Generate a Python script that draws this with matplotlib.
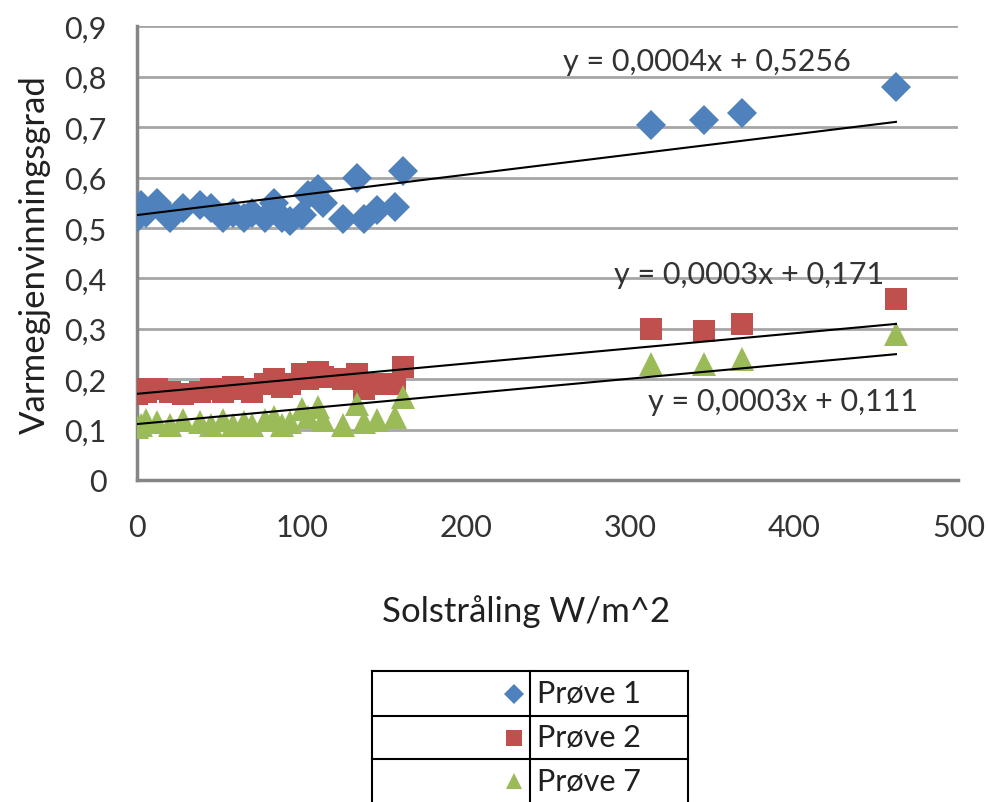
import matplotlib
matplotlib.use("Agg")
import matplotlib.pyplot as plt
from matplotlib.lines import Line2D
import numpy as np

plt.rcParams['font.family'] = ['Lato', 'DejaVu Sans']

# ---- data ----
solstraling = [0, 2, 5, 12, 20, 28, 38, 45, 52, 58, 65, 70, 78, 83, 88, 93,
               100, 104, 110, 113, 125, 134, 138, 146, 157, 162, 313, 345, 368, 462]
prove1 = [0.52, 0.545, 0.53, 0.55, 0.52, 0.54, 0.545, 0.54, 0.52, 0.53, 0.52, 0.53,
          0.52, 0.55, 0.52, 0.514, 0.525, 0.565, 0.577, 0.55, 0.518, 0.60, 0.518,
          0.535, 0.542, 0.612, 0.705, 0.715, 0.728, 0.78]
prove2 = [0.17, 0.18, 0.175, 0.18, 0.175, 0.17, 0.175, 0.18, 0.175, 0.185, 0.18, 0.175,
          0.19, 0.2, 0.185, 0.19, 0.21, 0.2, 0.215, 0.205, 0.2, 0.21, 0.18, 0.19,
          0.19, 0.225, 0.30, 0.295, 0.31, 0.36]
prove3 = [0.105, 0.11, 0.12, 0.115, 0.11, 0.12, 0.115, 0.11, 0.12, 0.11, 0.115, 0.11,
          0.12, 0.125, 0.11, 0.115, 0.14, 0.125, 0.145, 0.12, 0.11, 0.15, 0.115, 0.12,
          0.125, 0.165, 0.23, 0.23, 0.24, 0.29]
series_names = ["Prøve 1", "Prøve 2", "Prøve 7"]
trend_slopes = [0.0004, 0.0003, 0.0003]
trend_intercepts = [0.5256, 0.171, 0.111]
trend_labels = ["y = 0,0004x + 0,5256", "y = 0,0003x + 0,171", "y = 0,0003x + 0,111"]
x_ticks = [0, 100, 200, 300, 400, 500]
y_ticks = [0, 0.1, 0.2, 0.3, 0.4, 0.5, 0.6, 0.7, 0.8, 0.9]
y_ticklabels = ["0", "0,1", "0,2", "0,3", "0,4", "0,5", "0,6", "0,7", "0,8", "0,9"]

colors = ["#4F81BD", "#C0504D", "#9BBB59"]
markers = ["D", "s", "^"]
msizes = [15, 16, 17]
txt = '#333333'

fig = plt.figure(figsize=(9.88, 8.03), dpi=100)
ax = fig.add_axes([0.139, 0.401, 0.831, 0.565])

for ys, c, m, ms in zip([prove1, prove2, prove3], colors, markers, msizes):
    ax.plot(solstraling, ys, linestyle='none', marker=m, markersize=ms,
            color=c, markeredgewidth=0, zorder=3)

xs = np.array([0, max(solstraling)])
for a, b in zip(trend_slopes, trend_intercepts):
    ax.plot(xs, a * xs + b, color='black', lw=1.5, zorder=4)

eq_pos = [(259, 0.831), (290, 0.409), (311, 0.157)]
for lab, (px, py) in zip(trend_labels, eq_pos):
    ax.text(px, py, lab, fontsize=22, color=txt, ha='left', va='center', zorder=5)

ax.set_xlim(0, 500)
ax.set_ylim(0, 0.9)
ax.set_xticks(x_ticks)
ax.set_xticklabels([str(v) for v in x_ticks])
ax.set_yticks(y_ticks)
ax.set_yticklabels(y_ticklabels)
ax.tick_params(axis='x', length=0, labelsize=22, labelcolor=txt, pad=24)
ax.tick_params(axis='y', length=0, labelsize=22, labelcolor=txt, pad=22)
ax.yaxis.grid(True, color='#a6a6a6', lw=2)
ax.set_axisbelow(True)
for s in ['top', 'right']:
    ax.spines[s].set_visible(False)
for s in ['left', 'bottom']:
    ax.spines[s].set_color('#868686')
    ax.spines[s].set_linewidth(2.5)

ax.set_ylabel("Varmegjenvinningsgrad", fontsize=25, color='#202020', labelpad=10)
fig.text(0.532, 0.238, "Solstråling W/m^2", fontsize=25, color='#202020', ha='center', va='center')

# legend drawn as a table-like box
L, R, D = 372 / 988, 688 / 988, 530 / 988
rows = [1 - 672 / 803, 1 - 717 / 803, 1 - 760 / 803, 0.0]
for yv in rows[:3]:
    fig.add_artist(Line2D([L, R], [yv, yv], color='black', lw=1.5, transform=fig.transFigure))
for xv in [L, D, R]:
    fig.add_artist(Line2D([xv, xv], [rows[0], 0], color='black', lw=1.5, transform=fig.transFigure))
for i, (name, c, m, ms) in enumerate(zip(series_names, colors, markers, msizes)):
    yc = (rows[i] + rows[i + 1]) / 2 if i < 2 else rows[2] - 22 / 803
    fig.add_artist(Line2D([514 / 988], [yc], marker=m, color=c, markersize=ms * 0.7,
                          markeredgewidth=0, linestyle='none', transform=fig.transFigure))
    fig.text(537 / 988, yc, name, fontsize=22, color='#202020', ha='left', va='center')

fig.savefig("out.png", dpi=100)
